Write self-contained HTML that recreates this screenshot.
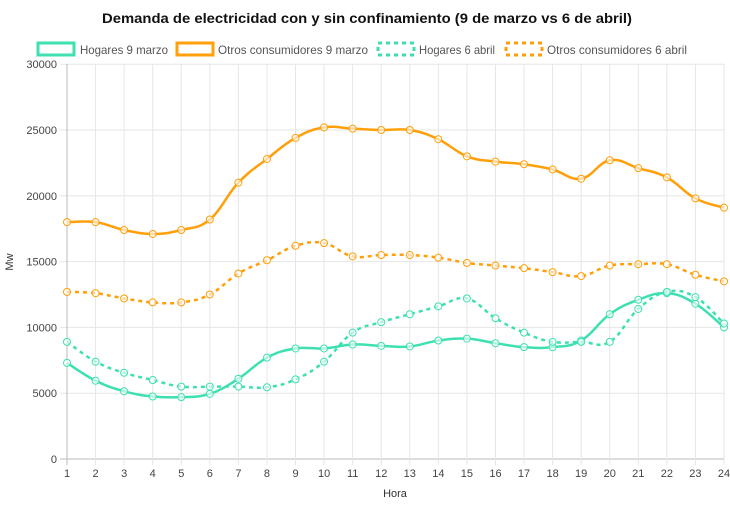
<!DOCTYPE html><html><head><meta charset="utf-8"><style>
body{margin:0;background:#fff;font-family:"Liberation Sans",sans-serif}
svg text{font-family:"Liberation Sans",sans-serif}
</style></head><body>
<svg id="s" width="730" height="521" xmlns="http://www.w3.org/2000/svg">
<text x="102" y="23" font-size="14" font-weight="bold" fill="#111" textLength="530" lengthAdjust="spacingAndGlyphs">Demanda de electricidad con y sin confinamiento (9 de marzo vs 6 de abril)</text>
<g font-size="12" fill="#555">
<rect x="38" y="43" width="36" height="12" fill="none" stroke="#3ee0b2" stroke-width="3"/>
<text x="80" y="54" textLength="88" lengthAdjust="spacingAndGlyphs">Hogares 9 marzo</text>
<rect x="177" y="43" width="36" height="12" fill="none" stroke="#ff9f0a" stroke-width="3"/>
<text x="218" y="54" textLength="150" lengthAdjust="spacingAndGlyphs">Otros consumidores 9 marzo</text>
<rect x="378" y="43" width="36" height="12" fill="none" stroke="#3ee0b2" stroke-width="3" stroke-dasharray="4,4"/>
<text x="419" y="54" textLength="76" lengthAdjust="spacingAndGlyphs">Hogares 6 abril</text>
<rect x="506" y="43" width="36" height="12" fill="none" stroke="#ff9f0a" stroke-width="3" stroke-dasharray="4,4"/>
<text x="547" y="54" textLength="140" lengthAdjust="spacingAndGlyphs">Otros consumidores 6 abril</text>
</g>
<g id="grid"></g>
<text x="13" y="262" font-size="11" fill="#333" transform="rotate(-90 13 262)" text-anchor="middle">Mw</text>
<text x="395" y="497" font-size="11" fill="#333" text-anchor="middle">Hora</text>
<g id="lines"></g>
</svg>
<script>
var x0=67,dx=(724-67)/23,y0=459,ky=65.8/5000;
function X(i){return x0+i*dx}function Y(v){return y0-v*ky}
var g='';
for(var v=0;v<=30000;v+=5000){var y=Y(v);g+='<line x1="60" x2="724" y1="'+y+'" y2="'+y+'" stroke="'+(v==0?'#bbb':'#e6e6e6')+'"/>';g+='<text x="57" y="'+(y+4)+'" font-size="11" fill="#444" text-anchor="end">'+v+'</text>';}
for(var i=0;i<24;i++){var x=X(i);g+='<line x1="'+x+'" x2="'+x+'" y1="64" y2="465" stroke="'+(i==0?'#bbb':'#e6e6e6')+'"/>';g+='<text x="'+x+'" y="477" font-size="11" fill="#444" text-anchor="middle">'+(i+1)+'</text>';}
document.getElementById('grid').innerHTML=g;
var S=[
[[18000,18000,17400,17100,17400,18200,21000,22800,24400,25200,25100,25000,25000,24300,23000,22600,22400,22000,21300,22700,22100,21400,19800,19100],'#ff9f0a',''],
[[12700,12600,12200,11900,11900,12500,14100,15100,16200,16400,15400,15500,15500,15300,14900,14700,14500,14200,13900,14700,14800,14800,14000,13500],'#ff9f0a','4,4'],
[[7300,5950,5150,4750,4700,4950,6100,7700,8400,8400,8700,8600,8550,9000,9150,8800,8500,8500,9000,11000,12100,12600,11800,10000],'#3ee0b2',''],
[[8900,7400,6550,6000,5500,5500,5500,5450,6050,7400,9600,10400,11000,11600,12200,10700,9600,8900,8900,8900,11400,12700,12300,10300],'#3ee0b2','4,4']];
var out='';
S.forEach(function(s){var d=s[0],p=d.map(function(v,i){return [X(i),Y(v)]}),t=0.4;
var path='M'+p[0][0]+','+p[0][1];
for(var i=0;i<p.length-1;i++){var a=p[Math.max(i-1,0)],b=p[i],c=p[i+1],e=p[Math.min(i+2,p.length-1)];
var c1=[b[0]+(c[0]-a[0])*t/2,b[1]+(c[1]-a[1])*t/2],c2=[c[0]-(e[0]-b[0])*t/2,c[1]-(e[1]-b[1])*t/2];
path+=' C'+c1+' '+c2+' '+c;}
out+='<path d="'+path+'" fill="none" stroke="'+s[1]+'" stroke-width="2.5" stroke-dasharray="'+s[2]+'"/>';
p.forEach(function(q){out+='<circle cx="'+q[0]+'" cy="'+q[1]+'" r="3.5" fill="rgba(255,255,255,0.6)" stroke="'+s[1]+'" stroke-width="1"/>';});});
document.getElementById('lines').innerHTML=out;
</script>
</body></html>
